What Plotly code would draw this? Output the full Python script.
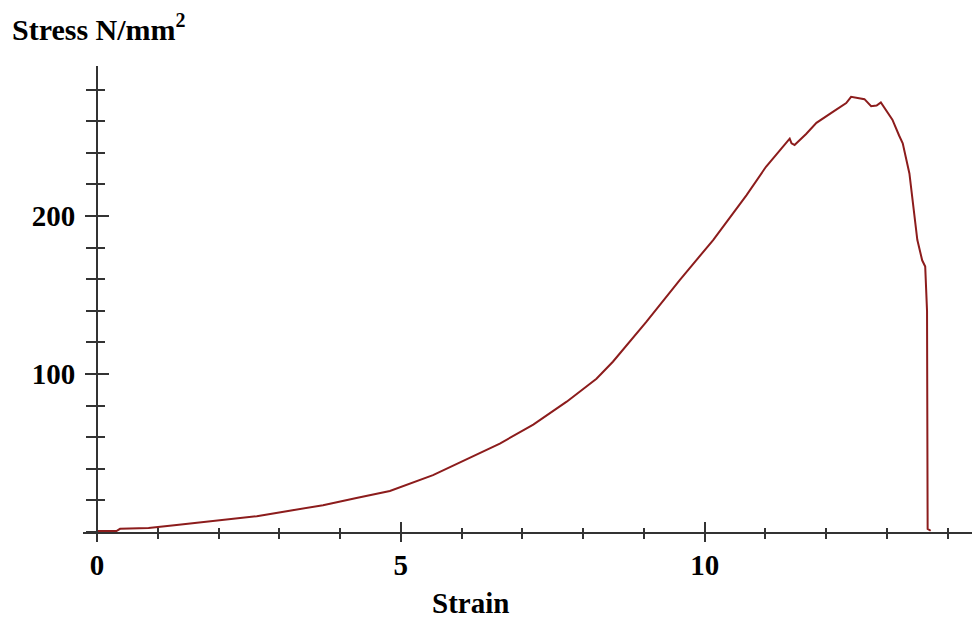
import plotly.graph_objects as go

strain = [0, 0.32, 0.38, 0.85, 1.31, 2.08, 2.63, 3.17, 3.72, 4.27, 4.82, 5.53, 6.08, 6.63,
          7.18, 7.73, 8.22, 8.49, 9.04, 9.59, 10.14, 10.69, 11.01, 11.2, 11.4, 11.43, 11.48,
          11.67, 11.84, 12.11, 12.33, 12.41, 12.5, 12.63, 12.74, 12.83, 12.9, 13.0, 13.09,
          13.2, 13.26, 13.37, 13.42, 13.5, 13.58, 13.63, 13.66, 13.67, 13.72]
stress = [0.6, 0.6, 2, 2.5, 4.4, 7.6, 10, 13.5, 17, 21.5, 26, 36, 46, 56,
          68, 82.5, 97, 107.8, 133, 159.5, 184.8, 213.3, 231.2, 240, 249, 246, 245,
          252, 259, 266, 271.5, 275.5, 275, 274, 269.5, 270, 272, 266, 261,
          251, 246, 227, 210, 185, 172, 168, 140, 2, 0.8]

x_major = [0, 5, 10]
x_labels = ["0", "5", "10"]
y_major = [100, 200]
y_labels = ["100", "200"]

font_fam = "Liberation Serif"
axis_col = "#333333"

fig = go.Figure()
fig.add_trace(go.Scatter(x=strain, y=stress, mode="lines",
                         line=dict(color="#8c1c1c", width=2), hoverinfo="skip",
                         showlegend=False))
fig.add_trace(go.Scatter(x=[], y=[], xaxis="x2", yaxis="y2", showlegend=False))

xr = [-0.23, 14.4]
yr = [0, 295]
ypos = (0 - xr[0]) / (xr[1] - xr[0])

common_x = dict(range=xr, showgrid=False, zeroline=False, showline=True,
                linecolor=axis_col, linewidth=2, tickcolor=axis_col, tickwidth=2)
common_y = dict(range=yr, showgrid=False, zeroline=False, tickcolor=axis_col, tickwidth=2)

fig.update_layout(
    width=972, height=621,
    margin=dict(l=83, r=0, t=66, b=89),
    plot_bgcolor="white", paper_bgcolor="white",
    xaxis=dict(**common_x, tickmode="array", tickvals=x_major, ticktext=x_labels,
               ticks="outside", ticklen=8,
               minor=dict(ticks="outside", ticklen=5, tickcolor=axis_col, tickwidth=2, dtick=1, tick0=0),
               tickfont=dict(family=font_fam, size=29, color="black", weight="bold"),
               ticklabelstandoff=-2),
    xaxis2=dict(**common_x, overlaying="x", anchor="y", side="bottom",
                tickmode="array", tickvals=x_major, ticks="inside", ticklen=10,
                minor=dict(ticks="inside", ticklen=4, tickcolor=axis_col, tickwidth=2, dtick=1, tick0=0),
                showticklabels=False),
    yaxis=dict(**common_y, anchor="free", position=ypos, showline=True,
               linecolor=axis_col, linewidth=2,
               tickmode="array", tickvals=y_major, ticktext=y_labels,
               ticks="outside", ticklen=11,
               minor=dict(ticks="outside", ticklen=10, tickcolor=axis_col, tickwidth=2, dtick=20, tick0=0),
               tickfont=dict(family=font_fam, size=29, color="black", weight="bold"),
               ticklabelstandoff=4),
    yaxis2=dict(**common_y, anchor="free", position=ypos, overlaying="y", side="left",
                showline=False,
                tickmode="array", tickvals=y_major, ticks="inside", ticklen=11,
                minor=dict(ticks="inside", ticklen=7, tickcolor=axis_col, tickwidth=2, dtick=20, tick0=0),
                showticklabels=False),
    annotations=[
        dict(text="Stress N/mm<sup><span style='font-size:20px'>2</span></sup>",
             xref="paper", yref="paper",
             x=-73/889, y=1 + 38/466, xanchor="left", yanchor="middle", showarrow=False,
             font=dict(family=font_fam, size=30, color="black", weight="bold")),
        dict(text="Strain", xref="paper", yref="paper",
             x=(470-83)/889, y=-71/466, xanchor="center", yanchor="middle", showarrow=False,
             font=dict(family=font_fam, size=29, color="black", weight="bold")),
    ],
)

fig.write_html("out.html")
